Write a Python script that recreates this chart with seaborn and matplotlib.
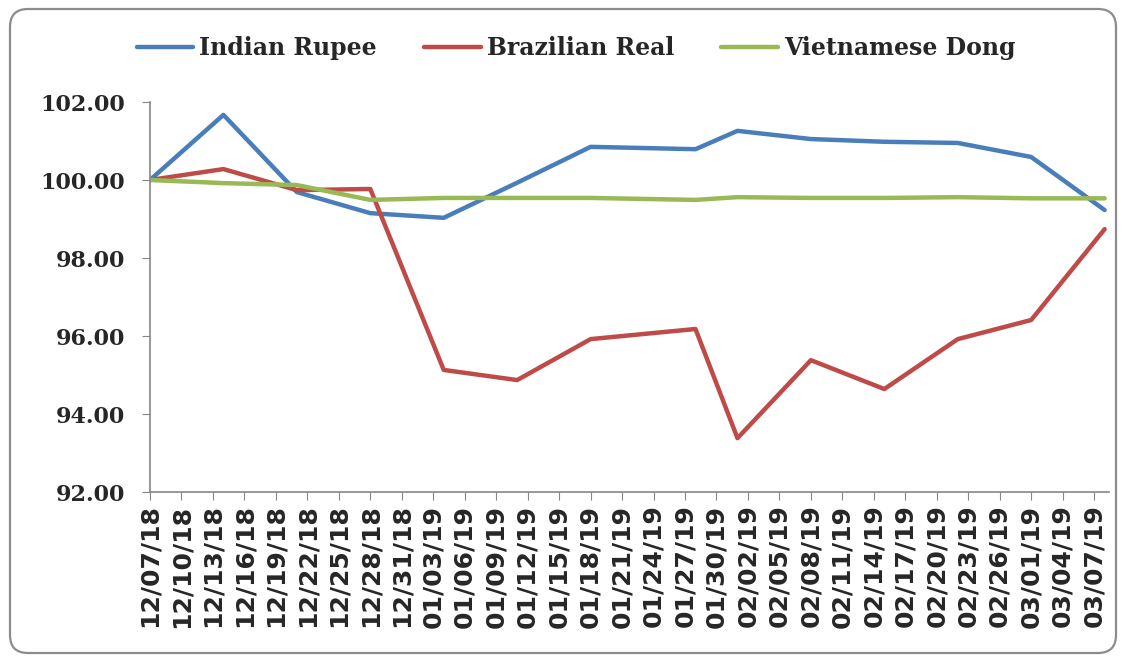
import pandas as pd
import matplotlib
matplotlib.use("Agg")
import matplotlib.pyplot as plt
from matplotlib.patches import FancyBboxPatch
import seaborn as sns

# Weekly index values (base 100 on 12/07/18)
dates = ["2018-12-07", "2018-12-14", "2018-12-21", "2018-12-28", "2019-01-04",
         "2019-01-11", "2019-01-18", "2019-01-28", "2019-02-01", "2019-02-08",
         "2019-02-15", "2019-02-22", "2019-03-01", "2019-03-08"]
indian_rupee = [100.00, 101.67, 99.69, 99.15, 99.03, 99.93, 100.85,
                100.79, 101.26, 101.05, 100.98, 100.95, 100.59, 99.23]
brazilian_real = [100.00, 100.28, 99.74, 99.77, 95.13, 94.87, 95.92,
                  96.18, 93.38, 95.38, 94.64, 95.92, 96.41, 98.74]
vietnamese_dong = [100.00, 99.92, 99.87, 99.49, 99.54, 99.54, 99.54,
                   99.49, 99.56, 99.54, 99.54, 99.56, 99.53, 99.53]
series_names = ["Indian Rupee", "Brazilian Real", "Vietnamese Dong"]
colors = ["#4A7EBB", "#BE4B48", "#98B954"]
y_ticks = [92, 94, 96, 98, 100, 102]

df = pd.DataFrame({
    "date": pd.to_datetime(dates * 3),
    "value": indian_rupee + brazilian_real + vietnamese_dong,
    "currency": sum([[n] * len(dates) for n in series_names], []),
})

sns.set_style("white")
plt.rcParams["font.family"] = ["DejaVu Serif", "DejaVu Sans"]

fig = plt.figure(figsize=(11.24, 6.61), dpi=100)
ax = fig.add_axes([150 / 1124, 1 - 492 / 661, 959 / 1124, 390 / 661])

sns.lineplot(data=df, x="date", y="value", hue="currency", hue_order=series_names,
             palette=colors, linewidth=3.2, ax=ax, legend=True)

# axes styling
for side in ["top", "right"]:
    ax.spines[side].set_visible(False)
for side in ["left", "bottom"]:
    ax.spines[side].set_color("#868686")
    ax.spines[side].set_linewidth(1.2)

ax.set_ylim(92, 102)
ax.set_yticks(y_ticks)
ax.set_yticklabels([f"{v:.2f}" for v in y_ticks], fontsize=16, fontweight="bold",
                   family="DejaVu Serif")

tick_dates = pd.date_range("2018-12-07", "2019-03-07", freq="3D")
ax.set_xticks(tick_dates)
ax.set_xticklabels([d.strftime("%m/%d/%y") for d in tick_dates], rotation=90,
                   fontsize=18, fontweight="bold", family="DejaVu Sans")
ax.set_xlim(pd.Timestamp("2018-12-07"), pd.Timestamp("2019-03-08") + pd.Timedelta(hours=10))
ax.tick_params(axis="y", length=6, color="#868686", pad=12, left=True)
ax.tick_params(axis="x", length=6, color="#868686", pad=3, bottom=True)
ax.set_xlabel("")
ax.set_ylabel("")
ax.grid(False)

handles, labels = ax.get_legend_handles_labels()
ax.legend(handles, labels, loc="center", bbox_to_anchor=(576 / 1124, 1 - 48 / 661),
          bbox_transform=fig.transFigure, ncol=3, frameon=False,
          prop={"family": "DejaVu Serif", "weight": "bold", "size": 17},
          handlelength=2.4, handletextpad=0.25, columnspacing=2.0)

# rounded chart border
border = FancyBboxPatch((10, 8), 1106, 644, boxstyle="round,pad=0,rounding_size=18",
                        transform=None, facecolor="none", edgecolor="#8C8C8C",
                        linewidth=1.6)
fig.patches.append(border)

fig.savefig("out.png", dpi=100)
